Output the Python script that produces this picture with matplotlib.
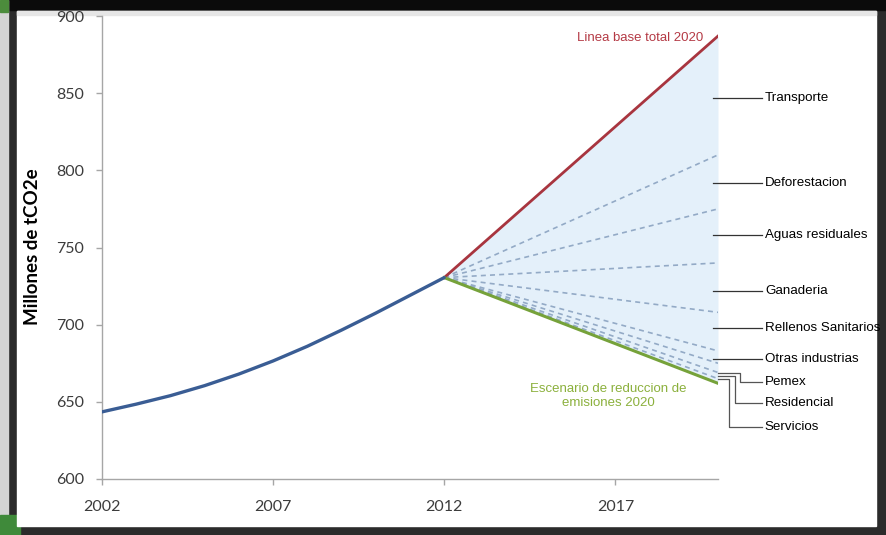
import matplotlib.pyplot as plt
from matplotlib.patches import Rectangle

# historical emissions, millions of tCO2e
years_hist = [2002, 2003, 2004, 2005, 2006, 2007, 2008, 2009, 2010, 2011, 2012]
emis_hist = [643.5, 648.5, 654, 660.5, 668, 676.5, 686, 696.5, 707.5, 719, 730.5]

# projections 2012 -> 2020
years_proj = [2012, 2020]
baseline_2020 = 887
reduction_2020 = 662
# 2020 end values of the sector wedge boundaries (top to bottom)
wedge_ends = [810, 775, 740, 708, 683, 675, 669, 665]

sectors = ['Transporte', 'Deforestacion', 'Aguas residuales', 'Ganaderia',
           'Rellenos Sanitarios', 'Otras industrias', 'Pemex', 'Residencial', 'Servicios']
label_y = [847, 792, 758, 722, 698, 678, 663, 649, 634]

yticks = [600, 650, 700, 750, 800, 850, 900]
xticks = [2002, 2007, 2012, 2017]

narrow = ['Liberation Sans Narrow', 'Liberation Sans', 'DejaVu Sans']
tickfont = ['Lato', 'DejaVu Sans']

fig = plt.figure(figsize=(8.86, 5.35), dpi=100, facecolor='#2b2b2b')
W, H = 886, 535

def px_rect(x0, y0, x1, y1, color):
    fig.patches.append(Rectangle((x0 / W, 1 - y1 / H), (x1 - x0) / W, (y1 - y0) / H,
                                 transform=fig.transFigure, color=color, zorder=-5))

# screen frame around the slide
px_rect(0, 0, 886, 10, '#0b0b0b')
px_rect(0, 0, 8, 535, '#d4d4d4')
px_rect(0, 0, 8, 12, '#4c8c3c')
px_rect(0, 515, 20, 535, '#3f8a3a')
px_rect(17, 11, 876, 526, 'white')
px_rect(17, 11, 876, 15, '#e6e6e6')

ax = fig.add_axes([102 / W, 1 - 479 / H, (718 - 102) / W, (479 - 16) / H])
ax.set_facecolor('none')

base = emis_hist[-1]
ax.fill_between(years_proj, [base, baseline_2020], [base, reduction_2020],
                color='#e4f0fa', lw=0, zorder=1)
for v in wedge_ends:
    ax.plot(years_proj, [base, v], ls=(0, (3, 2.5)), color='#93aac6', lw=1.2, zorder=2)
ax.plot(years_proj, [base, baseline_2020], color='#a8353f', lw=2.0, zorder=3)
ax.plot(years_proj, [base, reduction_2020], color='#76a23a', lw=2.2, zorder=3)
ax.plot(years_hist, emis_hist, color='#3a5d94', lw=2.4, zorder=4,
        solid_capstyle='round', solid_joinstyle='round')

ax.set_xlim(2002, 2020)
ax.set_ylim(600, 900)
ax.set_xticks(xticks)
ax.set_yticks(yticks)
for s in ['top', 'right']:
    ax.spines[s].set_visible(False)
for s in ['left', 'bottom']:
    ax.spines[s].set_color('#a6a6a6')
    ax.spines[s].set_linewidth(1.0)
ax.tick_params(axis='both', colors='#a6a6a6', labelcolor='#3c3c3c', length=4, width=1)
ax.tick_params(axis='x', pad=11)
ax.tick_params(axis='y', pad=9)
for lab in ax.get_xticklabels() + ax.get_yticklabels():
    lab.set_family(tickfont)
    lab.set_fontsize(11.5)

fig.text(33 / W, 1 - 247 / H, 'Millones de tCO2e', rotation=90, ha='center', va='center',
         family=tickfont, fontweight='bold', fontsize=13.5, color='black')

ax.text(2019.57, 886, 'Linea base total 2020', ha='right', va='center',
        family=narrow, fontsize=9.5, color='#b43a45')
ax.text(2016.8, 654, 'Escenario de reduccion de\nemisiones 2020', ha='center', va='center',
        family=narrow, fontsize=9.5, color='#8bb03c', linespacing=1.2)

# sector labels to the right of the wedge
x_tick0, x_line_end, x_text = 2019.84, 2021.30, 2021.37
for name, y in zip(sectors[:6], label_y[:6]):
    ax.plot([x_tick0, x_line_end], [y, y], color='#333333', lw=0.9, clip_on=False)
    ax.text(x_text, y, name, ha='left', va='center', family=narrow, fontsize=9.6,
            color='black', clip_on=False)

elbow_start = [668.5, 666.5, 664.5]
elbow_x = [2020.65, 2020.51, 2020.33]
for name, y, y0, xe in zip(sectors[6:], label_y[6:], elbow_start, elbow_x):
    ax.plot([2020.0, xe, xe, x_line_end], [y0, y0, y, y], color='#555555', lw=0.9,
            clip_on=False)
    ax.text(x_text, y, name, ha='left', va='center', family=narrow, fontsize=9.6,
            color='black', clip_on=False)

fig.savefig('out.png', dpi=100, facecolor=fig.get_facecolor())
